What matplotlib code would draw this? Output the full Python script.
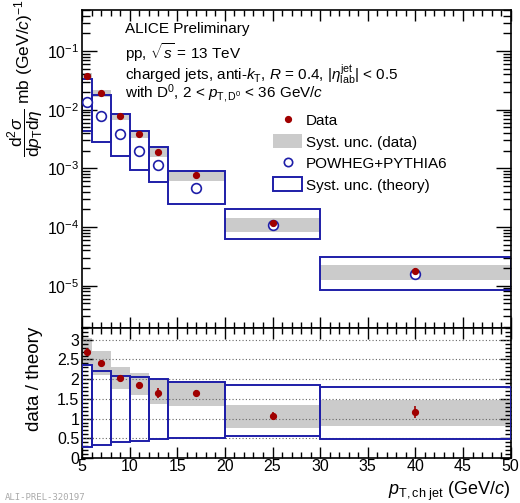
import numpy as np
import matplotlib
matplotlib.use("Agg")
import matplotlib.pyplot as plt
from matplotlib.lines import Line2D
from matplotlib.patches import Patch

plt.rcParams['font.family'] = ['Liberation Sans', 'DejaVu Sans']
plt.rcParams['mathtext.fontset'] = 'custom'
plt.rcParams['mathtext.rm'] = 'Liberation Sans'
plt.rcParams['mathtext.it'] = 'Liberation Sans:italic'
plt.rcParams['mathtext.bf'] = 'Liberation Sans:bold'

# bins in pT,ch jet (GeV/c)
bin_lo = np.array([5, 6, 8, 10, 12, 14, 20, 30])
bin_hi = np.array([6, 8, 10, 12, 14, 20, 30, 50])
bin_x = np.array([5.5, 7, 9, 11, 13, 17, 25, 40])

# cross section (mb (GeV/c)^-1)
data_y = np.array([0.037, 0.019, 0.0078, 0.0038, 0.0019, 7.6e-4, 1.15e-4, 1.8e-5])
theory_y = np.array([0.0138, 0.0079, 0.0039, 0.0020, 0.00114, 4.6e-4, 1.08e-4, 1.6e-5])
theory_syst_hi = np.array([0.034, 0.018, 0.0085, 0.0043, 0.0023, 8.9e-4, 2.0e-4, 3.1e-5])
theory_syst_lo = np.array([0.0044, 0.0028, 0.0016, 9.3e-4, 5.8e-4, 2.5e-4, 6.3e-5, 8.3e-6])

# ratio data / theory
ratio_y = np.array([2.70, 2.42, 2.03, 1.85, 1.65, 1.65, 1.07, 1.17])
ratio_stat = np.array([0.08, 0.05, 0.05, 0.09, 0.12, 0.08, 0.10, 0.15])
ratio_syst_hi = np.array([3.05, 2.72, 2.32, 2.16, 1.98, 1.96, 1.35, 1.48])
ratio_syst_lo = np.array([2.35, 2.10, 1.75, 1.59, 1.37, 1.33, 0.76, 0.80])
ratio_theo_hi = np.array([2.37, 2.21, 2.09, 2.06, 2.00, 1.94, 1.86, 1.81])
ratio_theo_lo = np.array([0.29, 0.34, 0.40, 0.43, 0.47, 0.50, 0.56, 0.48])

red = '#a00000'
blue = '#1e1ea8'
grey = '#cbcbcb'

fig = plt.figure(figsize=(5.2, 5.03), dpi=100)
ax = fig.add_axes([0.1577, 0.348, 0.8243, 0.632])
axr = fig.add_axes([0.1577, 0.0895, 0.8243, 0.2585], sharex=ax)

widths = bin_hi - bin_lo

# top panel
dsyst_hi = data_y * ratio_syst_hi / ratio_y
dsyst_lo = data_y * ratio_syst_lo / ratio_y
ax.bar(bin_lo, dsyst_hi - dsyst_lo, widths, bottom=dsyst_lo, align='edge',
       color=grey, linewidth=0, zorder=1)
ax.bar(bin_lo, theory_syst_hi - theory_syst_lo, widths, bottom=theory_syst_lo,
       align='edge', fill=False, edgecolor=blue, linewidth=1.4, zorder=2)
ax.plot(bin_x, theory_y, 'o', mfc='white', mec=blue, mew=1.2, ms=7, zorder=3)
ax.errorbar(bin_x, data_y, yerr=data_y * ratio_stat / ratio_y, fmt='o',
            color=red, ms=4.2, elinewidth=1.2, capsize=0, zorder=4)
ax.set_yscale('log')
ax.set_ylim(1.9e-6, 0.5)
ax.set_xlim(5, 50)
ax.set_ylabel(r'$\dfrac{\mathrm{d}^2\sigma}{\mathrm{d}p_{\mathrm{T}}\mathrm{d}\eta}$ mb (GeV/$c$)$^{-1}$',
              fontsize=12.5)
ax.yaxis.set_label_coords(-0.085, 0.785)

ax.text(0.1, 0.94, 'ALICE Preliminary', transform=ax.transAxes, fontsize=11, va='center')
ax.text(0.1, 0.865, r'pp, $\sqrt{s}$ = 13 TeV', transform=ax.transAxes, fontsize=11, va='center')
ax.text(0.1, 0.797, r'charged jets, anti-$k_{\mathrm{T}}$, $R$ = 0.4, $|\eta^{\mathrm{jet}}_{\mathrm{lab}}|$ < 0.5',
        transform=ax.transAxes, fontsize=11, va='center')
ax.text(0.1, 0.738, r'with D$^0$, 2 < $p_{\mathrm{T,D^0}}$ < 36 GeV/$c$',
        transform=ax.transAxes, fontsize=11, va='center')

handles = [Line2D([], [], marker='o', ls='none', color=red, ms=4.2),
           Patch(facecolor=grey, edgecolor='none'),
           Line2D([], [], marker='o', ls='none', mfc='white', mec=blue, mew=1.2, ms=6),
           Patch(facecolor='white', edgecolor=blue, linewidth=1.4)]
labels = ['Data', 'Syst. unc. (data)', 'POWHEG+PYTHIA6', 'Syst. unc. (theory)']
ax.legend(handles, labels, loc='upper left', bbox_to_anchor=(273 / 520, 1 - 113 / 503),
          bbox_transform=fig.transFigure, frameon=False, fontsize=11,
          handlelength=1.9, handleheight=1.0, handletextpad=0.25, labelspacing=0.42,
          borderpad=0, borderaxespad=0)

# ratio panel
axr.bar(bin_lo, ratio_syst_hi - ratio_syst_lo, widths, bottom=ratio_syst_lo, align='edge',
        color=grey, linewidth=0, zorder=1)
axr.bar(bin_lo, ratio_theo_hi - ratio_theo_lo, widths, bottom=ratio_theo_lo, align='edge',
        fill=False, edgecolor=blue, linewidth=1.4, zorder=3)
axr.errorbar(bin_x, ratio_y, yerr=ratio_stat, fmt='o', color=red, ms=4.2,
             elinewidth=1.2, capsize=0, zorder=4)
for g in [0.5, 1, 1.5, 2, 2.5, 3]:
    axr.axhline(g, color='#666666', ls=(0, (1, 2)), lw=0.8, zorder=2)
axr.set_ylim(0, 3.3)
axr.set_yticks([0, 0.5, 1, 1.5, 2, 2.5, 3])
axr.set_yticklabels(['0', '0.5', '1', '1.5', '2', '2.5', '3'])
axr.set_xticks([5, 10, 15, 20, 25, 30, 35, 40, 45, 50])
axr.set_ylabel('data / theory', fontsize=13.5)
axr.yaxis.set_label_coords(-0.09, 0.61)
axr.set_xlabel(r'$p_{\mathrm{T,ch\ jet}}$ (GeV/$c$)', fontsize=13, labelpad=0)
axr.xaxis.set_label_coords(1.0, -0.17)
axr.xaxis.label.set_horizontalalignment('right')

for a in (ax, axr):
    for s in a.spines.values():
        s.set_linewidth(1.2)
    a.tick_params(which='both', direction='in', top=True, right=True, labelsize=11.5, width=1.0)
    a.tick_params(which='major', length=8)
    a.tick_params(which='minor', length=4)
    a.xaxis.set_minor_locator(matplotlib.ticker.MultipleLocator(1))
ax.tick_params(axis='y', which='major', length=11, pad=2)
ax.tick_params(axis='y', which='minor', length=6)
ax.yaxis.set_minor_locator(matplotlib.ticker.LogLocator(base=10, subs=np.arange(2, 10), numticks=20))
ax.tick_params(labelbottom=False)
axr.yaxis.set_minor_locator(matplotlib.ticker.MultipleLocator(0.1))
axr.tick_params(axis='x', pad=1)
axr.tick_params(axis='y', pad=2)

fig.text(0.01, 0.006, 'ALI-PREL-320197', fontsize=6.5, color='#aaaaaa', family='DejaVu Sans Mono')

fig.savefig('out.png', dpi=100)
